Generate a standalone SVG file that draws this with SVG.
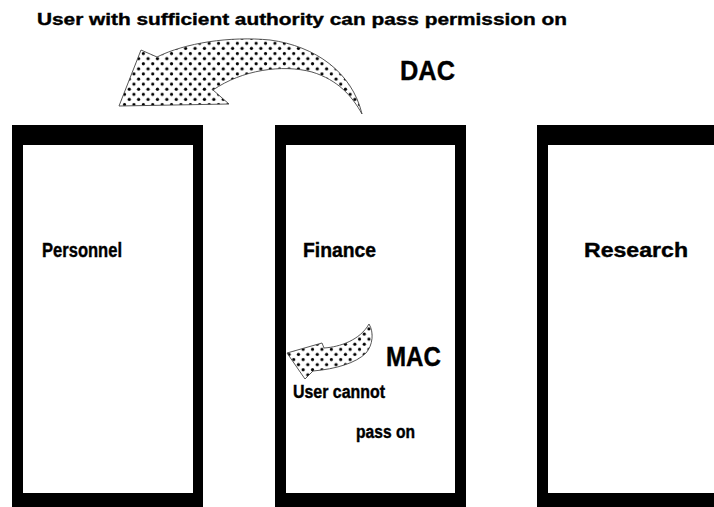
<svg xmlns="http://www.w3.org/2000/svg" width="714" height="507" viewBox="0 0 714 507">
  <defs>
    <!-- stippled fill used by both curved arrows -->
    <pattern id="dots" patternUnits="userSpaceOnUse" width="9.4" height="10.2">
      <rect width="9.4" height="10.2" fill="#fff"/>
      <circle cx="2.35" cy="2.55" r="1.6" fill="#000"/>
      <circle cx="7.05" cy="7.65" r="1.6" fill="#000"/>
    </pattern>
  </defs>
  <style>
    .frame { fill: #000; fill-rule: evenodd; }
    .lbl { font-family: "Liberation Sans", Arial, sans-serif; font-weight: bold; fill: #000; stroke: #000; stroke-width: 0.4; }
    .arrow { fill: url(#dots); stroke: #444; stroke-width: 0.9; stroke-linejoin: round; }
  </style>
  <rect width="714" height="507" fill="#fff"/>

  <text class="lbl" x="37" y="25" font-size="17" textLength="530" lengthAdjust="spacingAndGlyphs">User with sufficient authority can pass permission on</text>

  <!-- departments -->
  <g id="personnel">
    <path class="frame" d="M12,125 H203 V507 H12 Z M23,145 V493 H193 V145 Z"/>
    <text class="lbl" x="42" y="257" font-size="20" textLength="80" lengthAdjust="spacingAndGlyphs">Personnel</text>
  </g>
  <g id="finance">
    <path class="frame" d="M275,125 H466 V507 H275 Z M286,145 V493 H455 V145 Z"/>
    <text class="lbl" x="303" y="257" font-size="20" textLength="73" lengthAdjust="spacingAndGlyphs">Finance</text>
  </g>
  <g id="research">
    <path class="frame" d="M537,125 H730 V507 H537 Z M548,145 V493 H730 V145 Z"/>
    <text class="lbl" x="584" y="257" font-size="20" textLength="104" lengthAdjust="spacingAndGlyphs">Research</text>
  </g>

  <!-- DAC: permission passed across departments -->
  <g id="dac">
    <path class="arrow" d="M119,106 L141,50 L157,57 C185,43 230,36 270,40 C315,46 352,72 362,114 C352,96 338,80 312,72 C282,64 242,70 213,90 L229,104 Z"/>
    <text class="lbl" x="400" y="80" font-size="28" textLength="55" lengthAdjust="spacingAndGlyphs">DAC</text>
  </g>

  <!-- MAC: permission stays inside the department -->
  <g id="mac">
    <path class="arrow" d="M287,353 L322,343 L324,348 C340,347 360,340 369,324 C374,332 373,345 366,353 C356,363 336,369 313,371 L305,379 Z"/>
    <text class="lbl" x="386" y="366" font-size="28" textLength="55" lengthAdjust="spacingAndGlyphs">MAC</text>
    <text class="lbl" x="293" y="398" font-size="18" textLength="92" lengthAdjust="spacingAndGlyphs">User cannot</text>
    <text class="lbl" x="356" y="438" font-size="18" textLength="59" lengthAdjust="spacingAndGlyphs">pass on</text>
  </g>
</svg>
